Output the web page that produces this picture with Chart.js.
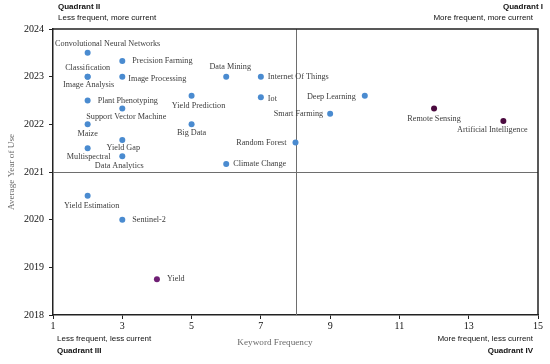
<!DOCTYPE html>
<html>
<head>
<meta charset="utf-8">
<script src="https://cdn.jsdelivr.net/npm/chart.js@4"></script>
<style>
  html, body { margin: 0; padding: 0; background: #fff; }
  #wrap { width: 550px; height: 364px; position: relative; }
</style>
</head>
<body>
<div id="wrap"><canvas id="chart-quadrantes"></canvas></div>
<script>
// Dados
const keywords = [
  'Convolutional Neural Networks', 'Precision Farming', 'Classification', 'Image Analysis',
  'Image Processing', 'Data Mining', 'Internet Of Things', 'Plant Phenotyping',
  'Yield Prediction', 'Iot', 'Support Vector Machine', 'Maize', 'Big Data', 'Yield Gap',
  'Multispectral', 'Data Analytics', 'Climate Change', 'Random Forest', 'Deep Learning',
  'Smart Farming', 'Remote Sensing', 'Artificial Intelligence', 'Yield Estimation',
  'Sentinel-2', 'Yield'
];
const frequency = [2, 3, 2, 2, 3, 6, 7, 2, 5, 7, 3, 2, 5, 3, 2, 3, 6, 8, 10, 9, 12, 14, 2, 3, 4];
const avgYear = [
  2023.5, 2023.33, 2023, 2023, 2023, 2023, 2023, 2022.5, 2022.6, 2022.57, 2022.33, 2022,
  2022, 2021.67, 2021.5, 2021.33, 2021.17, 2021.62, 2022.6, 2022.22, 2022.33, 2022.07,
  2020.5, 2020, 2018.75
];
const xTicks = [1, 3, 5, 7, 9, 11, 13, 15];
const yTicks = [2018, 2019, 2020, 2021, 2022, 2023, 2024];
const quadSplit = { x: 8, y: 2021 };

// Estilos (cores e posição dos rótulos)
const corPadrao = '#4a8bd0';
const corDestaque = { 'Remote Sensing': '#4b0a3f', 'Artificial Intelligence': '#4b0a3f', 'Yield': '#6f1f74' };
const posRotulo = {
  'Convolutional Neural Networks': ['center', 20, -9],
  'Precision Farming': ['left', 10, 0],
  'Classification': ['center', 0, -9],
  'Image Analysis': ['center', 1, 8],
  'Image Processing': ['left', 6, 2],
  'Data Mining': ['center', 4, -10],
  'Internet Of Things': ['left', 7, 0],
  'Plant Phenotyping': ['left', 10, 0],
  'Yield Prediction': ['center', 7, 10],
  'Iot': ['left', 7, 2],
  'Support Vector Machine': ['center', 4, 8],
  'Maize': ['center', 0, 10],
  'Big Data': ['center', 0, 9],
  'Yield Gap': ['center', 1, 8],
  'Multispectral': ['center', 1, 9],
  'Data Analytics': ['center', -3, 10],
  'Climate Change': ['left', 7, 0],
  'Random Forest': ['right', -9, 0],
  'Deep Learning': ['right', -9, 1],
  'Smart Farming': ['right', -7, 0],
  'Remote Sensing': ['center', 0, 10],
  'Artificial Intelligence': ['center', -11, 9],
  'Yield Estimation': ['center', 4, 10],
  'Sentinel-2': ['left', 10, 0],
  'Yield': ['left', 10, 0]
};

const SERIF = '"Liberation Serif", "Times New Roman", serif';
const SANS = '"Liberation Sans", Arial, sans-serif';

const pontos = keywords.map((k, i) => ({ x: frequency[i], y: avgYear[i] }));

// Plugin: moldura, linhas dos quadrantes, rótulos e textos dos quadrantes
const quadrantPlugin = {
  id: 'quadrantes',
  beforeDatasetsDraw(chart) {
    const { ctx, chartArea: a, scales } = chart;
    const qx = scales.x.getPixelForValue(quadSplit.x);
    const qy = scales.y.getPixelForValue(quadSplit.y);
    ctx.save();
    ctx.strokeStyle = '#6e6e6e';
    ctx.lineWidth = 1;
    ctx.beginPath();
    ctx.moveTo(Math.round(qx) + 0.5, a.top);
    ctx.lineTo(Math.round(qx) + 0.5, a.bottom);
    ctx.moveTo(a.left, Math.round(qy) + 0.5);
    ctx.lineTo(a.right, Math.round(qy) + 0.5);
    ctx.stroke();
    ctx.strokeStyle = '#222';
    ctx.lineWidth = 1.5;
    ctx.beginPath();
    ctx.moveTo(a.left, a.top);
    ctx.lineTo(a.right, a.top);
    ctx.lineTo(a.right, a.bottom);
    ctx.stroke();
    ctx.restore();
  },
  afterDatasetsDraw(chart) {
    const { ctx, chartArea: a } = chart;
    const meta = chart.getDatasetMeta(0);
    ctx.save();
    ctx.font = '8.2px ' + SERIF;
    ctx.fillStyle = '#3c3c3c';
    ctx.textBaseline = 'middle';
    meta.data.forEach((pt, i) => {
      const [align, dx, dy] = posRotulo[keywords[i]];
      ctx.textAlign = align;
      ctx.fillText(keywords[i], pt.x + dx, pt.y + dy);
    });

    // Título do eixo X centralizado na página
    ctx.font = '9.2px ' + SERIF;
    ctx.fillStyle = '#6a6a6a';
    ctx.textAlign = 'center';
    ctx.fillText('Keyword Frequency', chart.width / 2, 343);

    // Quadrantes
    const q = (txt, x, y, bold, align) => {
      ctx.font = (bold ? 'bold ' : '') + '8px ' + SANS;
      ctx.fillStyle = '#111';
      ctx.textAlign = align;
      ctx.fillText(txt, x, y);
    };
    q('Quadrant II', a.left + 5, 7, true, 'left');
    q('Less frequent, more current', a.left + 5, 18, false, 'left');
    q('Quadrant I', 543, 7, true, 'right');
    q('More frequent, more current', 533, 18, false, 'right');
    q('Less frequent, less current', a.left + 4, 339, false, 'left');
    q('Quadrant III', a.left + 4, 351, true, 'left');
    q('More frequent, less current', 533, 339, false, 'right');
    q('Quadrant IV', 533, 351, true, 'right');
    ctx.restore();
  }
};

new Chart(document.getElementById('chart-quadrantes'), {
  type: 'scatter',
  data: {
    datasets: [{
      label: 'Keywords',
      data: pontos,
      pointRadius: 3,
      pointHoverRadius: 3,
      borderWidth: 0,
      backgroundColor: keywords.map(k => corDestaque[k] || corPadrao)
    }]
  },
  options: {
    responsive: true,
    maintainAspectRatio: false,
    animation: false,
    layout: { padding: { top: 29, right: 12, left: 0, bottom: 0 } },
    plugins: { legend: { display: false }, tooltip: { enabled: false } },
    scales: {
      x: {
        type: 'linear',
        min: xTicks[0],
        max: xTicks[xTicks.length - 1],
        afterBuildTicks: s => { s.ticks = xTicks.map(v => ({ value: v })); },
        afterFit: s => { s.height = 49; },
        grid: { display: true, drawOnChartArea: false, drawTicks: true, tickLength: 4, color: '#222' },
        border: { display: true, color: '#222', width: 1.5 },
        ticks: { font: { family: SERIF, size: 10 }, color: '#111', padding: 1, maxRotation: 0 }
      },
      y: {
        type: 'linear',
        min: yTicks[0],
        max: yTicks[yTicks.length - 1],
        afterBuildTicks: s => { s.ticks = yTicks.map(v => ({ value: v })); },
        afterFit: s => { s.width = 53; },
        grid: { display: true, drawOnChartArea: false, drawTicks: true, tickLength: 4, color: '#222' },
        border: { display: true, color: '#222', width: 1.5 },
        title: { display: true, text: 'Average Year of Use', font: { family: SERIF, size: 9.2 }, color: '#6a6a6a', padding: { top: 6, bottom: 0 } },
        ticks: { font: { family: SERIF, size: 10 }, color: '#111', padding: 5, callback: v => String(v) }
      }
    }
  },
  plugins: [quadrantPlugin]
});
</script>
</body>
</html>
